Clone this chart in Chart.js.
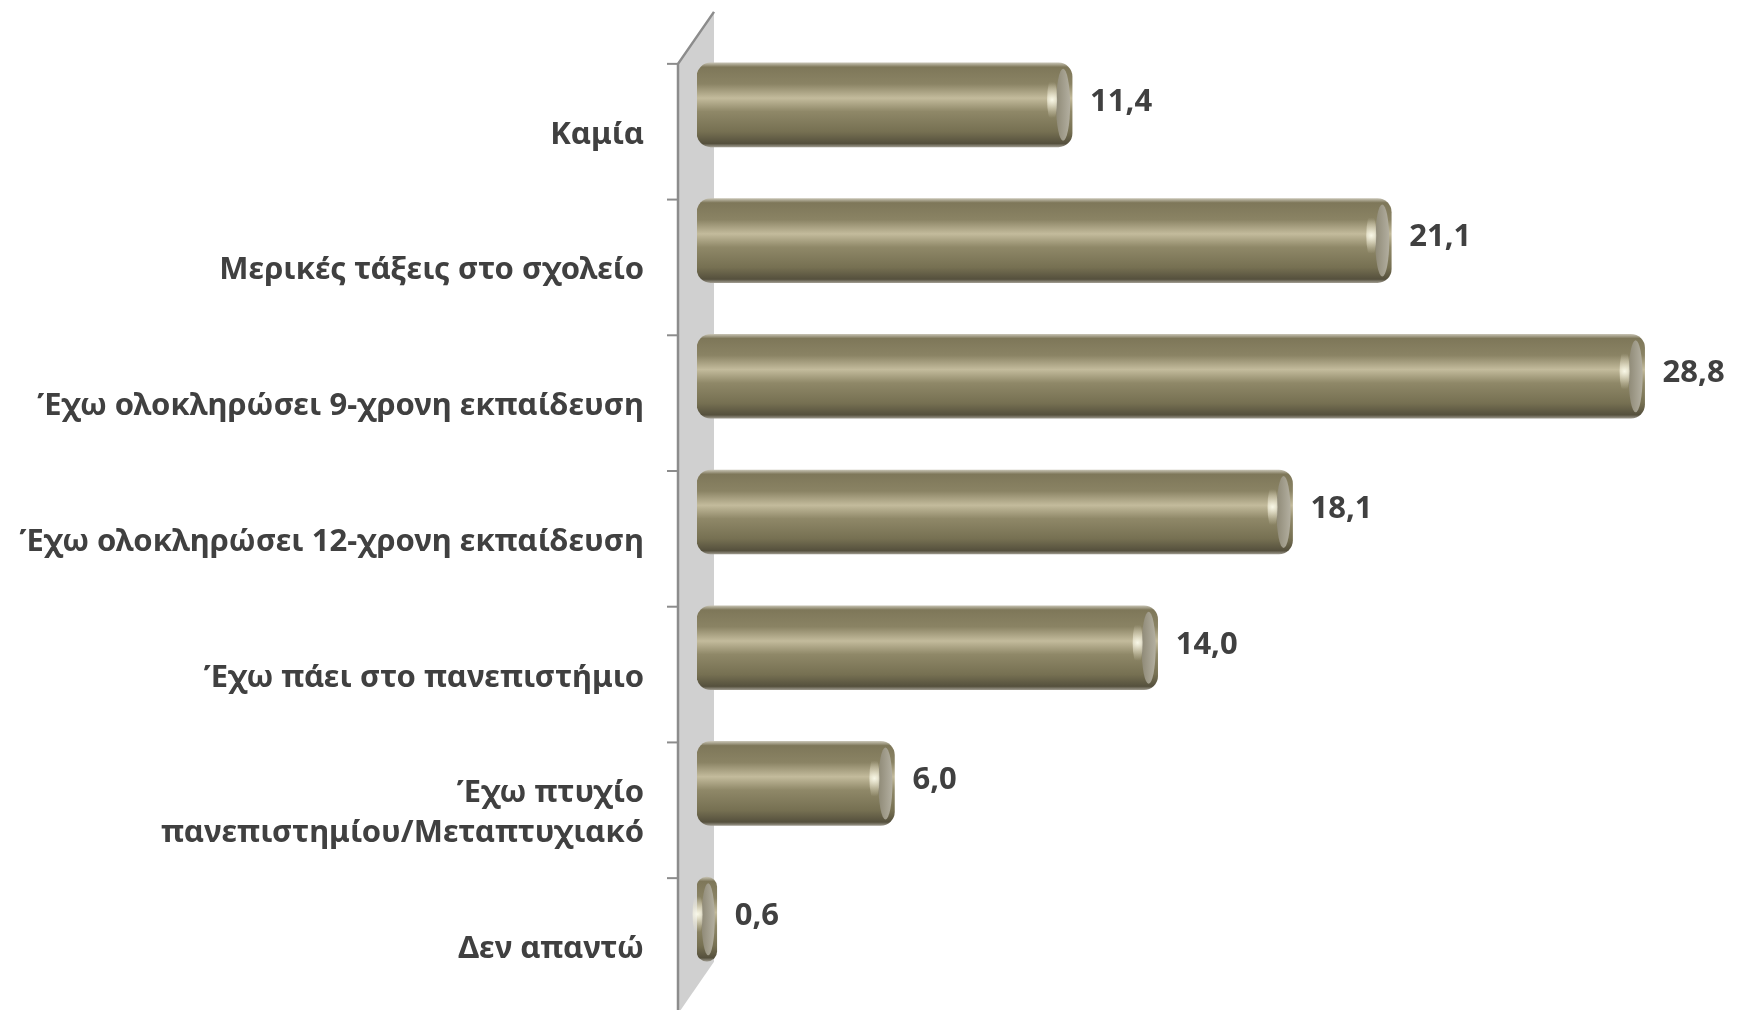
<!DOCTYPE html>
<html>
<head>
<meta charset="utf-8">
<script src="https://cdn.jsdelivr.net/npm/chart.js@4"></script>
<style>
    html, body { margin: 0; padding: 0; background: #fff; }
    #wrap { width: 1741px; height: 1010px; position: relative; }
</style>
</head>
<body>
<div id="wrap"><canvas id="graph"></canvas></div>
<script>
// Données du graphique
const categories = [
    'Καμία',
    'Μερικές τάξεις στο σχολείο',
    'Έχω ολοκληρώσει 9-χρονη εκπαίδευση',
    'Έχω ολοκληρώσει 12-χρονη εκπαίδευση',
    'Έχω πάει στο πανεπιστήμιο',
    ['Έχω πτυχίο', 'πανεπιστημίου/Μεταπτυχιακό'],
    'Δεν απαντώ'
];
const valeurs = [11.4, 21.1, 28.8, 18.1, 14.0, 6.0, 0.6];

const EPAISSEUR = 84;
const POLICE = '"Noto Sans", "DejaVu Sans", sans-serif';

// Dégradé "cylindre" pour chaque barre
function degradeBarre(context) {
    const chart = context.chart;
    if (!chart.chartArea) return '#8a8365';
    const yc = chart.scales.y.getPixelForValue(context.dataIndex);
    const g = chart.ctx.createLinearGradient(0, yc - EPAISSEUR / 2, 0, yc + EPAISSEUR / 2);
    g.addColorStop(0.00, '#c4c0b0');
    g.addColorStop(0.05, '#7e7759');
    g.addColorStop(0.25, '#8a8364');
    g.addColorStop(0.42, '#c3bb9c');
    g.addColorStop(0.58, '#8f8868');
    g.addColorStop(0.82, '#767052');
    g.addColorStop(0.96, '#55503d');
    g.addColorStop(1.00, '#9a968a');
    return g;
}

// Mur gris (effet 3D) derrière les barres
const murPlugin = {
    id: 'mur',
    beforeDatasetsDraw(chart) {
        const ctx = chart.ctx;
        const x0 = chart.scales.x.getPixelForValue(0);
        const y = chart.scales.y;
        const avant = x0 - 19, arriere = x0 + 17;
        const pas = y.getPixelForValue(1) - y.getPixelForValue(0);
        const haut = y.getPixelForValue(0) - 41;
        const bas = y.getPixelForValue(categories.length - 1) - 41 + pas;
        const dy = 52;

        ctx.save();
        ctx.fillStyle = '#d0d0d0';
        ctx.beginPath();
        ctx.moveTo(avant, haut);
        ctx.lineTo(arriere, haut - dy);
        ctx.lineTo(arriere, bas - dy);
        ctx.lineTo(avant, bas);
        ctx.closePath();
        ctx.fill();

        ctx.strokeStyle = '#8c8c8c';
        ctx.lineWidth = 2.5;
        ctx.beginPath();
        ctx.moveTo(arriere, haut - dy);
        ctx.lineTo(avant, haut);
        ctx.lineTo(avant, bas);
        ctx.stroke();

        // petits traits de graduation
        ctx.lineWidth = 2;
        for (let i = 0; i < categories.length; i++) {
            const t = y.getPixelForValue(i) - 41;
            ctx.beginPath();
            ctx.moveTo(avant - 11, t);
            ctx.lineTo(avant, t);
            ctx.stroke();
        }
        ctx.restore();
    }
};

// Extrémité des cylindres + étiquettes de valeur
const finitionPlugin = {
    id: 'finition',
    afterDatasetsDraw(chart) {
        const ctx = chart.ctx;
        const meta = chart.getDatasetMeta(0);
        ctx.save();
        meta.data.forEach((barre, i) => {
            const h = EPAISSEUR;
            const largeur = barre.x - barre.base;
            const rx = Math.min(7, largeur / 3);
            const cx = barre.x - rx - 2;

            // face de l'extrémité
            const g = ctx.createLinearGradient(cx - rx, 0, cx + rx, 0);
            g.addColorStop(0, '#8f8a77');
            g.addColorStop(1, '#b3afa0');
            ctx.fillStyle = g;
            ctx.beginPath();
            ctx.ellipse(cx, barre.y, rx, h / 2 - 6, 0, 0, Math.PI * 2);
            ctx.fill();

            // reflet
            const hx = cx - rx - 4, hy = barre.y - 5;
            const r = ctx.createRadialGradient(hx, hy, 0, hx, hy, 18);
            r.addColorStop(0, 'rgba(255,255,240,0.9)');
            r.addColorStop(0.5, 'rgba(240,236,215,0.45)');
            r.addColorStop(1, 'rgba(240,236,215,0)');
            ctx.fillStyle = r;
            ctx.beginPath();
            ctx.ellipse(hx, hy, 5, 22, 0, 0, Math.PI * 2);
            ctx.fill();

            // valeur
            ctx.fillStyle = '#404040';
            ctx.font = 'bold 31px ' + POLICE;
            ctx.textAlign = 'left';
            ctx.textBaseline = 'middle';
            ctx.fillText(valeurs[i].toFixed(1).replace('.', ','), barre.x + 18, barre.y - 3);
        });
        ctx.restore();
    }
};

new Chart(document.getElementById('graph').getContext('2d'), {
    type: 'bar',
    data: {
        labels: categories,
        datasets: [{
            data: valeurs,
            backgroundColor: degradeBarre,
            borderWidth: 0,
            borderRadius: 14,
            borderSkipped: false,
            barThickness: EPAISSEUR
        }]
    },
    options: {
        indexAxis: 'y',
        responsive: true,
        maintainAspectRatio: false,
        animation: false,
        layout: {
            padding: { top: 37, bottom: 23, left: 0, right: 24 }
        },
        plugins: {
            legend: { display: false },
            tooltip: { enabled: false }
        },
        scales: {
            x: {
                display: false,
                min: 0,
                max: 31
            },
            y: {
                // espace entre étiquettes et mur via tickLength (grille masquée)
                grid: { display: false, drawTicks: true, tickLength: 53 },
                border: { display: false },
                afterFit: (scale) => { scale.width = 697; },
                ticks: {
                    padding: 0,
                    labelOffset: 30,
                    color: '#404040',
                    font: { family: POLICE, size: 31, weight: 'bold', lineHeight: 1.3 }
                }
            }
        }
    },
    plugins: [murPlugin, finitionPlugin]
});
</script>
</body>
</html>
